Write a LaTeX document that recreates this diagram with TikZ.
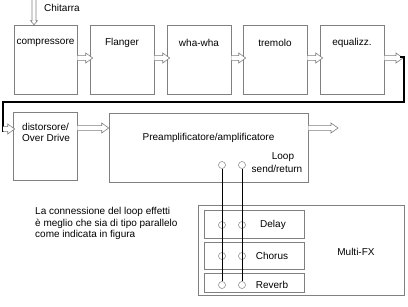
\documentclass[tikz,border=0pt]{standalone}
\usepackage{fontspec}
\setmainfont{Liberation Sans}
\usetikzlibrary{calc}
\tikzset{
  box/.style={draw=gray, line width=0.6pt, minimum width=#1, inner sep=0pt},
  lbl/.style={inner sep=0pt, font=\fontsize{10}{11.5}\selectfont},
  arrowline/.style={draw=gray, line width=0.6pt, fill=white},
  jack/.style={circle, draw=gray, line width=0.5pt, minimum size=7pt, inner sep=0pt},
  thickline/.style={line width=1.6pt, black},
  cable/.style={line width=0.6pt, black}
}
\newcommand\blockR[2]{\path[arrowline] let \p1=(#1), \p2=(#2) in
  (\x1,\y1+2.4pt) -- (\x2-7pt,\y1+2.4pt) -- (\x2-7pt,\y1+5pt) -- (\x2,\y1) --
  (\x2-7pt,\y1-5pt) -- (\x2-7pt,\y1-2.4pt) -- (\x1,\y1-2.4pt);}
\newcommand\blockD[2]{\path[arrowline] let \p1=(#1), \p2=(#2) in
  (\x1-2pt,\y1) -- (\x1-2pt,\y2+4pt) -- (\x1-3.5pt,\y2+4pt) -- (\x1,\y2) --
  (\x1+3.5pt,\y2+4pt) -- (\x1+2pt,\y2+4pt) -- (\x1+2pt,\y1);}
\begin{document}
\begin{tikzpicture}[x=1pt,y=-1pt]
\useasboundingbox[fill=white] (0,0) rectangle (408,306);
% top row boxes
\node[box=63pt, minimum height=69pt] (comp) at (45.5,59.5) {};
\node[box=64pt, minimum height=69pt] (flang) at (122,59.5) {};
\node[box=64pt, minimum height=69pt] (wha) at (199,59.5) {};
\node[box=64pt, minimum height=69pt] (trem) at (275,59.5) {};
\node[box=64pt, minimum height=69pt] (eq) at (352,59.5) {};
\node[lbl] at (45.5,43) {compressore};
\node[lbl] at (122,43) {Flanger};
\node[lbl] at (199,43) {wha-wha};
\node[lbl] at (275,43) {tremolo};
\node[lbl] at (352,43) {equalizz.};
% second row
\node[box=64pt, minimum height=68pt] (dist) at (45,146) {};
\node[box=199pt, minimum height=69pt] (pre) at (208.5,147.5) {};
\node[lbl, anchor=north west, align=left] at (22,123) {distorsore/\\Over Drive};
\node[lbl] at (208.5,138) {Preamplificatore/amplificatore};
\node[lbl] at (283,157) {Loop};
\node[lbl] at (277,169) {send/return};
% multi fx
\node[box=206pt, minimum height=90pt] (mfx) at (301,250) {};
\node[box=100pt, minimum height=28pt] (delay) at (254,224) {};
\node[box=100pt, minimum height=27pt] (chorus) at (254,255.5) {};
\node[box=100pt, minimum height=19pt] (reverb) at (254,282.5) {};
\node[lbl] at (273,225) {Delay};
\node[lbl] at (272,256) {Chorus};
\node[lbl] at (272,285) {Reverb};
\node[lbl] at (356,252) {Multi-FX};
% jacks
\node[jack] (p1) at (222,165) {};
\node[jack] (p2) at (242,165) {};
\node[jack] (d1) at (222,225) {};
\node[jack] (d2) at (242,225) {};
\node[jack] (c1) at (222,256) {};
\node[jack] (c2) at (242,256) {};
\node[jack] (r1) at (222,285) {};
\node[jack] (r2) at (242,285) {};
\draw[cable] (p1.south) -- (r1.north);
\draw[cable] (p2.south) -- (r2.north);
% text
\node[lbl, anchor=north west, align=left] at (35,207.5) {La connessione del loop effetti\\è meglio che sia di tipo parallelo\\come indicata in figura};
\node[lbl, anchor=west] (chit) at (44,8) {Chitarra};
% coordinates
\coordinate (gin) at (34,0);
\coordinate (ya) at (0,58);
\coordinate (yb) at (0,129);
\coordinate (yc) at (0,128);
\coordinate (eqtip) at (403,58);
\coordinate (k1) at (404,57);
\coordinate (k2) at (404,102);
\coordinate (k3) at (3,102);
\coordinate (k4) at (3,132);
\coordinate (lin) at (3,129);
\coordinate (outtip) at (338,128);
% arrows
\blockD{gin}{comp.north -| gin}
\blockR{comp.east |- ya}{$(flang.west |- ya)+(3,0)$}
\blockR{flang.east |- ya}{$(wha.west |- ya)+(3,0)$}
\blockR{wha.east |- ya}{$(trem.west |- ya)+(3,0)$}
\blockR{trem.east |- ya}{$(eq.west |- ya)+(3,0)$}
\blockR{eq.east |- ya}{eqtip}
\draw[thickline] (400,57) -- (k1) -- (k2) -- (k3) -- (k4);
\blockR{lin}{$(dist.west |- yb)+(2,0)$}
\blockR{dist.east |- yc}{pre.west |- yc}
\blockR{pre.east |- yc}{outtip}
\end{tikzpicture}
\end{document}
